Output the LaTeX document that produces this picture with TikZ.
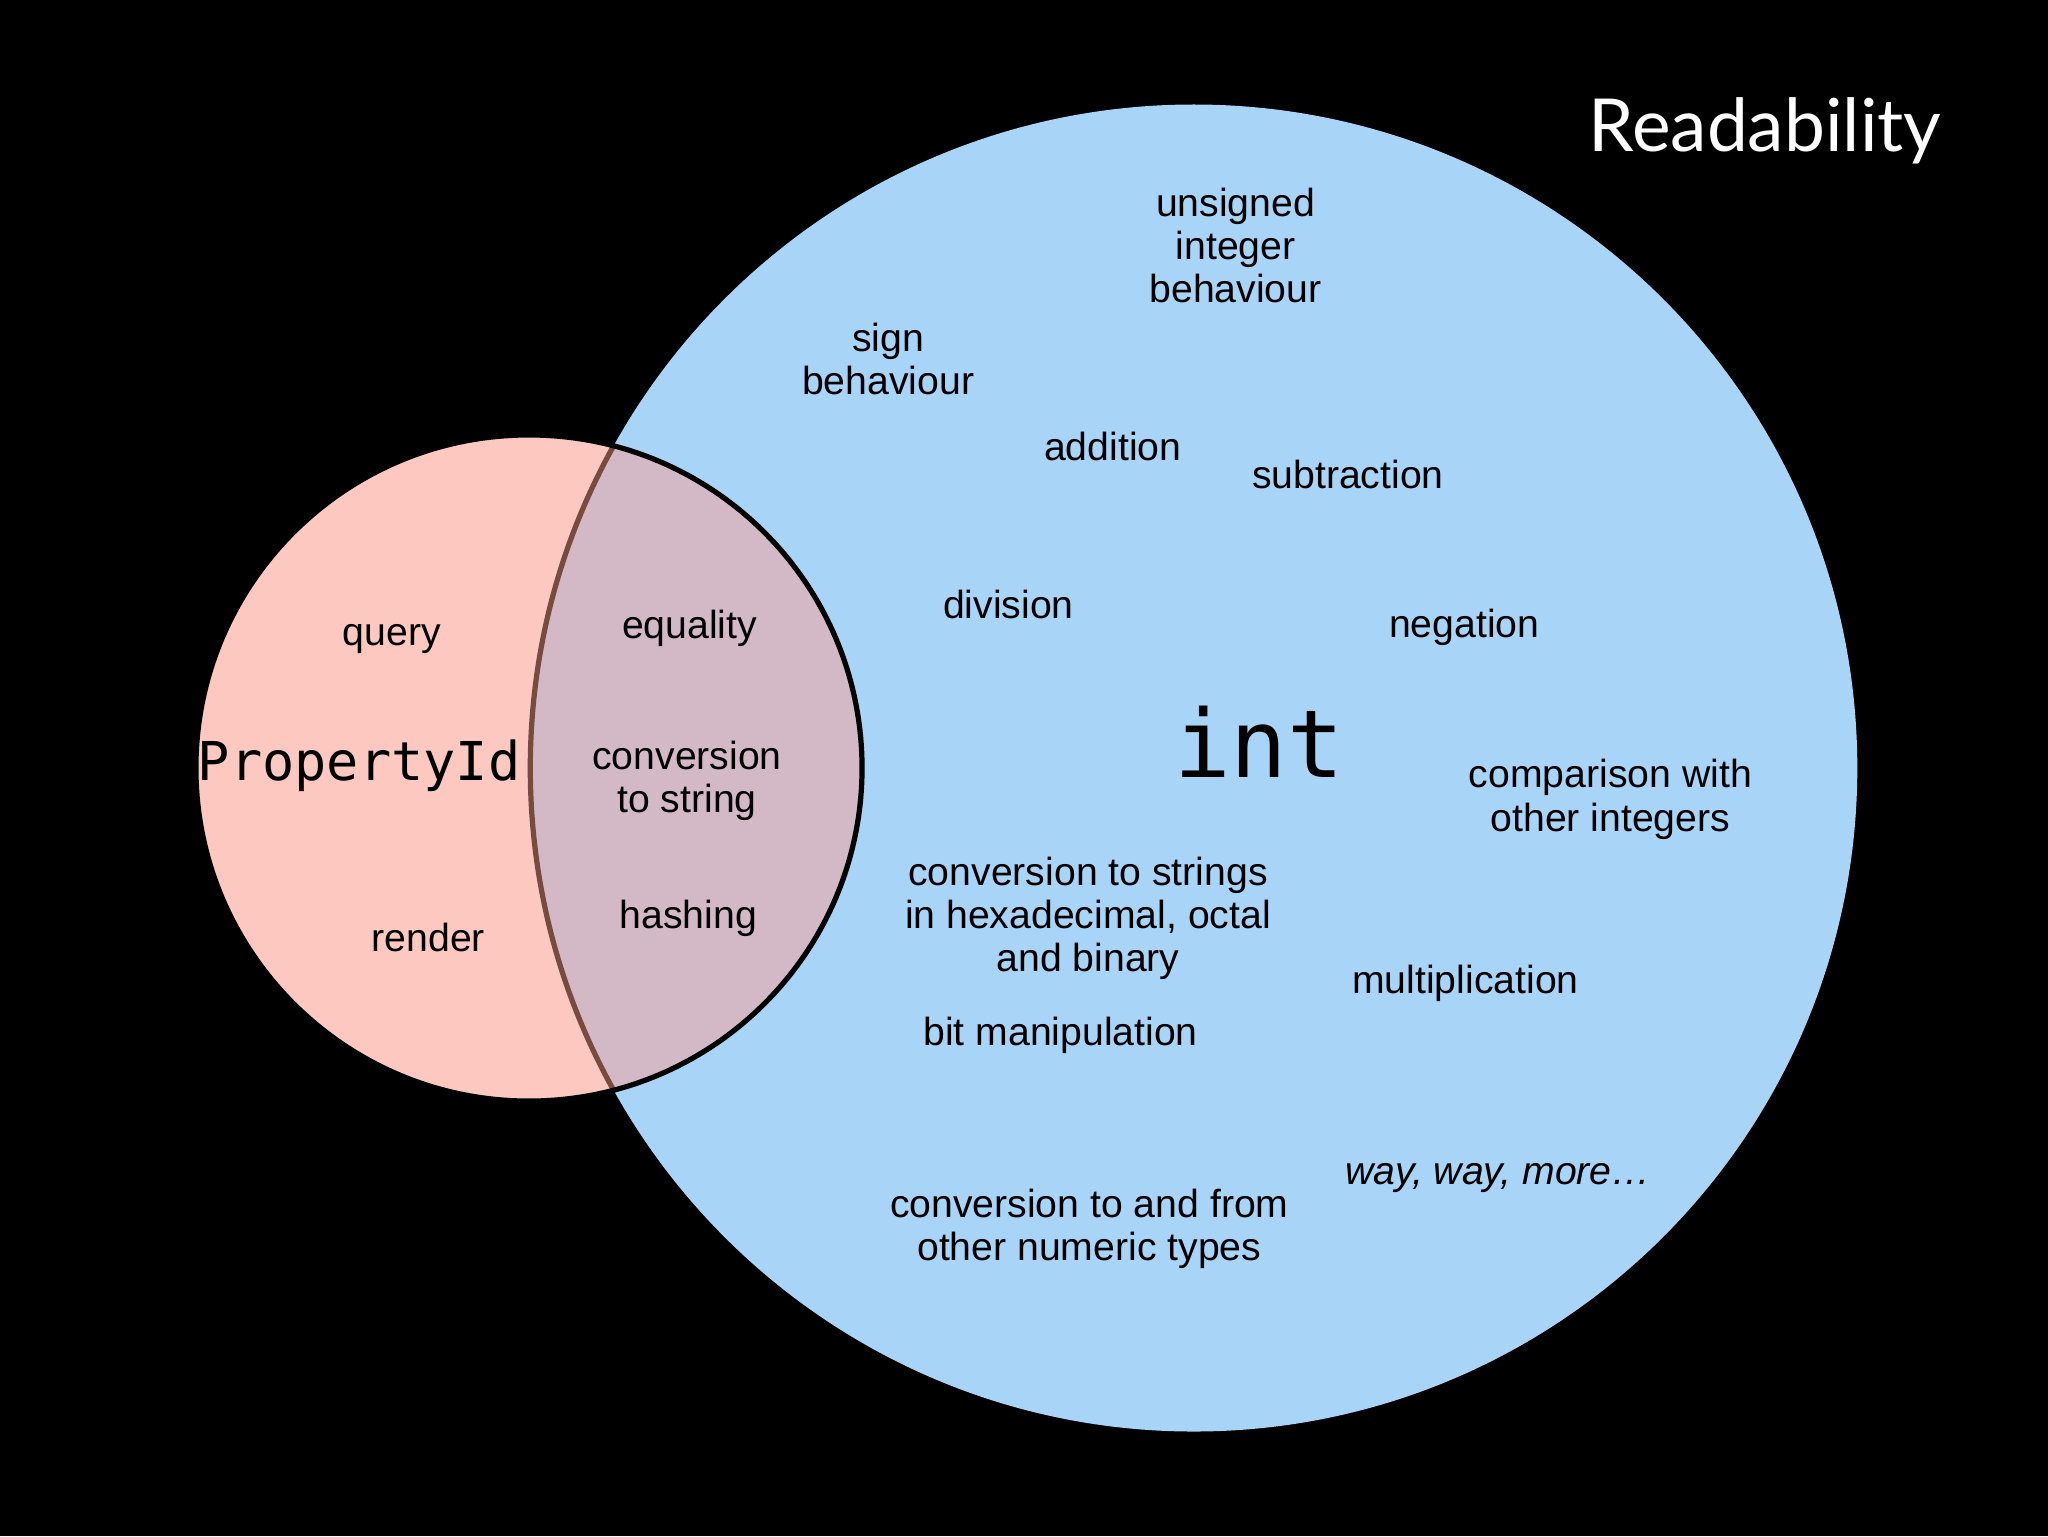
\documentclass[tikz,border=0pt]{standalone}
\usepackage{fontspec}
\setmainfont{Liberation Sans}
\setmonofont{DejaVu Sans Mono}
\newfontfamily\titlefont{Lato}
\begin{document}
\begin{tikzpicture}[x=1pt,y=-1pt,
  lbl/.style={align=center,font=\fontsize{30}{33}\selectfont,text=black,inner sep=0pt}]
\fill[black] (0,0) rectangle (1568,1176);
\useasboundingbox (0,0) rectangle (1568,1176);
\coordinate (bc) at (914,588);
\coordinate (sc) at (405,588);
\fill[fill={rgb,255:red,168;green,212;blue,248}] (bc) circle (508);
\fill[fill={rgb,255:red,252;green,200;blue,192}] (sc) circle (255);
\begin{scope}
\clip (sc) circle (255);
\fill[fill={rgb,255:red,211;green,184;blue,198}] (bc) circle (508);
\draw[line width=4pt,draw={rgb,255:red,120;green,75;blue,65}] (bc) circle (508);
\end{scope}
\draw[line width=4pt] (sc) circle (255);
\node[font=\titlefont\fontsize{56}{64}\selectfont,text=white,anchor=east] (title) at (1490,100) {Readability};
\node[lbl] (uns) at (946,188) {unsigned\\integer\\behaviour};
\node[lbl] (sign) at (680,275) {sign\\behaviour};
\node[lbl] (add) at (852,342) {addition};
\node[lbl] (sub) at (1032,363) {subtraction};
\node[lbl] (div) at (772,463) {division};
\node[lbl] (neg) at (1121,480) {negation};
\node[font=\ttfamily\fontsize{72}{80}\selectfont,inner sep=0pt] (int) at (964,568) {int};
\node[lbl] (cmp) at (1233,612) {comparison with\\other integers};
\node[lbl] (conv) at (833,703) {conversion to strings\\in hexadecimal, octal\\and binary};
\node[lbl] (mul) at (1122,753) {multiplication};
\node[lbl] (bit) at (812,793) {bit manipulation};
\node[lbl] (num) at (834,941) {conversion to and from\\other numeric types};
\node[lbl,font=\itshape\fontsize{30}{33}\selectfont] (more) at (1147,902) {way, way, more…};
\node[lbl] (query) at (300,489) {query};
\node[font=\ttfamily\fontsize{41}{46}\selectfont,inner sep=0pt] (pid) at (275,586) {PropertyId};
\node[lbl] (render) at (328,718) {render};
\node[lbl] (eq) at (528,481) {equality};
\node[lbl] (cts) at (526,598) {conversion\\to string};
\node[lbl] (hash) at (527,703) {hashing};
\end{tikzpicture}
\end{document}
